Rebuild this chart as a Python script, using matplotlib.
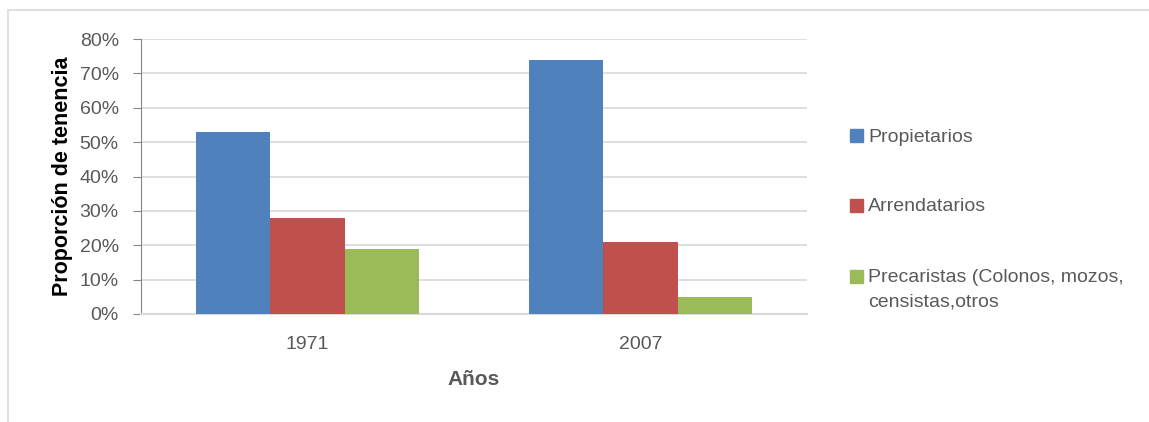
import matplotlib.pyplot as plt
import numpy as np
from matplotlib.patches import Rectangle

years = ["1971", "2007"]
series = ["Propietarios", "Arrendatarios", "Precaristas (Colonos, mozos,\ncensistas,otros"]
propietarios = [53, 74]
arrendatarios = [28, 21]
precaristas = [19, 5]
colors = ["#4f81bd", "#c0504d", "#9bbb59"]

plt.rcParams["font.family"] = ["Liberation Sans", "DejaVu Sans"]

W, H = 1149, 422
grey = "#595959"
fig = plt.figure(figsize=(W / 100, H / 100), dpi=100)
ax = fig.add_axes([141 / W, 1 - 314 / H, 666 / W, 275 / H])

x = np.arange(len(years))
w = 0.224
for i, vals in enumerate([propietarios, arrendatarios, precaristas]):
    ax.bar(x + (i - 1) * w, vals, w, color=colors[i], zorder=3)

ax.set_xlim(-0.5, 1.5)
ax.set_ylim(0, 80)
ax.set_yticks(range(0, 81, 10))
ax.set_yticklabels([f"{v}%" for v in range(0, 81, 10)])
ax.set_xticks(x)
ax.set_xticklabels(years)
ax.grid(axis="y", color="#d9d9d9", linewidth=1.2, zorder=0)
for s in ["top", "right"]:
    ax.spines[s].set_visible(False)
ax.spines["left"].set_color("#868686")
ax.spines["bottom"].set_color("#d9d9d9")
ax.spines["bottom"].set_linewidth(1.5)
ax.tick_params(axis="y", colors="#868686", labelcolor=grey, labelsize=14, length=6, pad=10)
ax.tick_params(axis="x", length=0, labelcolor=grey, labelsize=14, pad=16)

ax.set_ylabel("Proporción de tenencia", fontsize=15.5, fontweight="bold", color="black", labelpad=5)
ax.set_xlabel("Años", fontsize=15, fontweight="bold", color=grey, labelpad=12)

# legend drawn by hand so the marker sits on the first line of the wrapped label
legend_y = [135.5, 205, 276]
for name, col, ly in zip(series, colors, legend_y):
    fig.patches.append(Rectangle((850 / W, 1 - (ly + 6.5) / H), 13 / W, 13 / H,
                                 transform=fig.transFigure, color=col))
    fig.text(868 / W, 1 - (ly - 7) / H, name, fontsize=14, color=grey, va="top",
             linespacing=1.55)

fig.patches.append(Rectangle((8 / W, -0.1), 1.2, 1 - 10 / H + 0.1, transform=fig.transFigure,
                             fill=False, edgecolor="#d9d9d9", linewidth=1.2))

fig.savefig("out.png", dpi=100)
